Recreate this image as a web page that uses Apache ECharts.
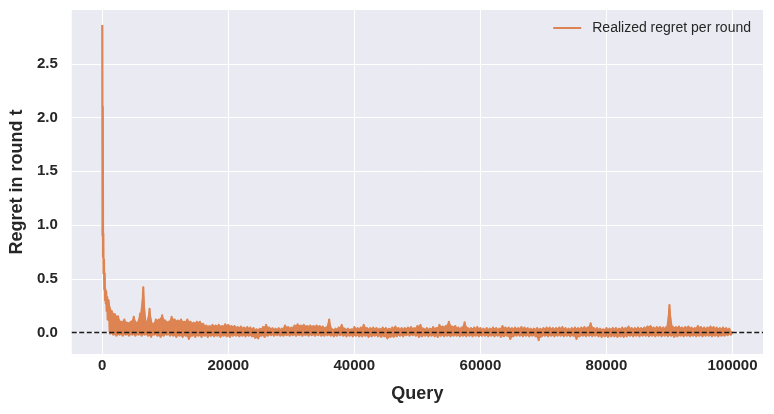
<!DOCTYPE html>
<html>
<head>
<meta charset="utf-8">
<script src="https://cdn.jsdelivr.net/npm/echarts@6/dist/echarts.min.js"></script>
<style>
html,body{margin:0;padding:0;background:#ffffff;}
#chart{width:774px;height:414px;}
</style>
</head>
<body>
<div id="chart"></div>
<script>
// ---- data ----
const seriesName = 'Realized regret per round';
const xTickValues = [0, 20000, 40000, 60000, 80000, 100000];
const yTickValues = [0.0, 0.5, 1.0, 1.5, 2.0, 2.5];

// first few hundred queries (initial decay)
const headQueries = [0, 40, 80, 120, 160, 200, 260, 320, 380, 440, 500, 560, 620, 700, 780, 860, 940];
const headRegret  = [2.86, 0.90, 2.10, 0.70, 0.92, 0.55, 0.68, 0.40, 0.55, 0.30, 0.40, 0.27, 0.38, 0.20, 0.33, 0.12, 0.27];

// afterwards: per 500-query window, the high and low excursions of the noisy curve
const bandStartQuery = 1000;
const bandWindow = 500;
const bandHigh = [
  0.30,0.20,0.17,0.15,0.10,0.12,0.09,0.10,0.145,0.09,
  0.175,0.42,0.10,0.22,0.08,0.12,0.12,0.16,0.11,0.10,
  0.145,0.12,0.11,0.12,0.10,0.12,0.10,0.09,0.10,0.10,
  0.08,0.065,0.06,0.07,0.065,0.07,0.06,0.075,0.07,0.06,
  0.06,0.05,0.055,0.045,0.05,0.045,0.04,0.03,0.035,0.05,
  0.07,0.045,0.04,0.035,0.04,0.035,0.065,0.05,0.045,0.065,
  0.075,0.065,0.07,0.06,0.065,0.06,0.065,0.06,0.055,0.045,
  0.12,0.03,0.035,0.045,0.07,0.035,0.035,0.03,0.05,0.04,
  0.045,0.07,0.04,0.04,0.045,0.04,0.035,0.045,0.04,0.035,
  0.045,0.055,0.04,0.04,0.04,0.045,0.05,0.04,0.06,0.07,
  0.035,0.04,0.035,0.05,0.04,0.07,0.055,0.06,0.10,0.055,
  0.06,0.045,0.045,0.095,0.04,0.04,0.045,0.05,0.04,0.035,
  0.04,0.035,0.045,0.04,0.035,0.06,0.045,0.045,0.04,0.045,
  0.04,0.05,0.045,0.04,0.035,0.035,0.04,0.035,0.04,0.045,
  0.045,0.04,0.04,0.045,0.05,0.04,0.035,0.04,0.045,0.04,
  0.045,0.05,0.045,0.085,0.04,0.04,0.035,0.03,0.04,0.035,
  0.04,0.04,0.035,0.045,0.04,0.055,0.04,0.04,0.045,0.04,
  0.045,0.055,0.06,0.045,0.05,0.05,0.045,0.05,0.255,0.055,
  0.05,0.055,0.045,0.05,0.055,0.045,0.04,0.06,0.05,0.045,
  0.045,0.055,0.05,0.045,0.04,0.045,0.04,0.035
];
const bandLow = [
  -0.01,-0.02,-0.03,-0.02,-0.03,-0.02,-0.03,-0.02,-0.03,-0.02,
  -0.03,-0.02,-0.03,-0.04,-0.02,-0.03,-0.04,-0.03,-0.02,-0.03,
  -0.03,-0.04,-0.03,-0.04,-0.03,-0.06,-0.03,-0.04,-0.03,-0.04,
  -0.03,-0.04,-0.03,-0.035,-0.03,-0.04,-0.03,-0.035,-0.04,-0.03,
  -0.03,-0.035,-0.03,-0.035,-0.03,-0.035,-0.05,-0.055,-0.03,-0.04,
  -0.03,-0.025,-0.03,-0.025,-0.03,-0.03,-0.025,-0.03,-0.025,-0.03,
  -0.025,-0.03,-0.025,-0.03,-0.025,-0.03,-0.025,-0.03,-0.03,-0.025,
  -0.03,-0.035,-0.03,-0.025,-0.03,-0.035,-0.03,-0.035,-0.03,-0.035,
  -0.035,-0.03,-0.04,-0.035,-0.03,-0.035,-0.04,-0.035,-0.055,-0.04,
  -0.04,-0.035,-0.03,-0.035,-0.025,-0.03,-0.025,-0.03,-0.04,-0.035,
  -0.03,-0.035,-0.03,-0.035,-0.04,-0.03,-0.035,-0.03,-0.035,-0.03,
  -0.03,-0.035,-0.03,-0.035,-0.03,-0.035,-0.03,-0.035,-0.03,-0.03,
  -0.035,-0.03,-0.035,-0.03,-0.04,-0.035,-0.03,-0.06,-0.035,-0.03,
  -0.03,-0.035,-0.03,-0.035,-0.03,-0.035,-0.07,-0.035,-0.03,-0.035,
  -0.03,-0.035,-0.03,-0.03,-0.035,-0.03,-0.035,-0.03,-0.06,-0.035,
  -0.03,-0.035,-0.03,-0.035,-0.03,-0.035,-0.04,-0.035,-0.04,-0.035,
  -0.035,-0.04,-0.035,-0.04,-0.035,-0.03,-0.035,-0.03,-0.035,-0.03,
  -0.03,-0.035,-0.03,-0.035,-0.03,-0.035,-0.03,-0.035,-0.03,-0.04,
  -0.035,-0.03,-0.035,-0.03,-0.035,-0.03,-0.035,-0.03,-0.035,-0.03,
  -0.03,-0.035,-0.03,-0.035,-0.03,-0.03,-0.025,-0.02
];
const lastQuery = 100000;
const lastRegret = 0.01;
const referenceLevel = 0;

// ---- build the tables the library needs ----
const points = [];
for (let i = 0; i < headQueries.length; i++) points.push([headQueries[i], headRegret[i]]);
for (let i = 0; i < bandHigh.length; i++) {
  const q = bandStartQuery + i * bandWindow;
  points.push([q, bandHigh[i]]);
  points.push([q + bandWindow / 2, bandLow[i]]);
}
points.push([lastQuery, lastRegret]);

// envelope of the dense oscillation (same read values): filled from 0 up to the highs and down to the lows
const envHigh = [], envLow = [];
for (let i = 0; i < bandHigh.length; i++) {
  envHigh.push([bandStartQuery + i * bandWindow, bandHigh[i]]);
  envLow.push([bandStartQuery + i * bandWindow + bandWindow / 2, bandLow[i]]);
}

const FONT = '"Liberation Sans", Arial, Helvetica, sans-serif';
const TXT = '#262626';
const ORANGE = '#dd8452';

const chart = echarts.init(document.getElementById('chart'), null, {renderer: 'canvas'});
chart.setOption({
  animation: false,
  backgroundColor: '#ffffff',
  grid: {left: 68, right: 11, top: 10, bottom: 60, containLabel: false,
         show: true, backgroundColor: '#EAEAF2', borderWidth: 0},
  legend: {
    data: [seriesName], right: 18, top: 16, icon: 'rect', itemWidth: 28, itemHeight: 2,
    textStyle: {fontFamily: FONT, fontSize: 14, color: TXT, padding: [0, 0, 0, 6]}
  },
  xAxis: {
    type: 'value', min: -4845, max: 104845,
    name: 'Query', nameLocation: 'middle', nameGap: 31,
    nameTextStyle: {fontFamily: FONT, fontSize: 18, fontWeight: 'bold', color: TXT},
    axisLine: {show: false},
    axisTick: {show: false, customValues: xTickValues},
    axisLabel: {customValues: xTickValues, margin: 4, fontFamily: FONT, fontSize: 15,
                fontWeight: 'bold', color: TXT, formatter: v => String(v)},
    splitLine: {show: true, lineStyle: {color: '#ffffff', width: 1}}
  },
  yAxis: {
    type: 'value', min: -0.2, max: 3.0,
    name: 'Regret in round t', nameLocation: 'middle', nameGap: 44, nameRotate: 90,
    nameTextStyle: {fontFamily: FONT, fontSize: 18, fontWeight: 'bold', color: TXT},
    axisLine: {show: false},
    axisTick: {show: false, customValues: yTickValues},
    axisLabel: {customValues: yTickValues, margin: 14, fontFamily: FONT, fontSize: 15,
                fontWeight: 'bold', color: TXT, formatter: v => v.toFixed(1)},
    splitLine: {show: true, lineStyle: {color: '#ffffff', width: 1}}
  },
  series: [
    {
      name: 'envHigh', type: 'line', data: envHigh, symbol: 'none', silent: true,
      lineStyle: {opacity: 0}, areaStyle: {color: ORANGE, opacity: 1, origin: 0}, z: 2
    },
    {
      name: 'envLow', type: 'line', data: envLow, symbol: 'none', silent: true,
      lineStyle: {opacity: 0}, areaStyle: {color: ORANGE, opacity: 1, origin: 0}, z: 2
    },
    {
      name: seriesName, type: 'line', data: points, symbol: 'none', showSymbol: false,
      sampling: null, smooth: false,
      lineStyle: {color: ORANGE, width: 2.2, join: 'round'},
      itemStyle: {color: ORANGE},
      markLine: {
        silent: true, symbol: ['none', 'none'], label: {show: false},
        lineStyle: {color: '#1a1a1a', type: [5, 2.5], width: 1.3},
        data: [{yAxis: referenceLevel}]
      },
      z: 3
    }
  ]
});
</script>
</body>
</html>
